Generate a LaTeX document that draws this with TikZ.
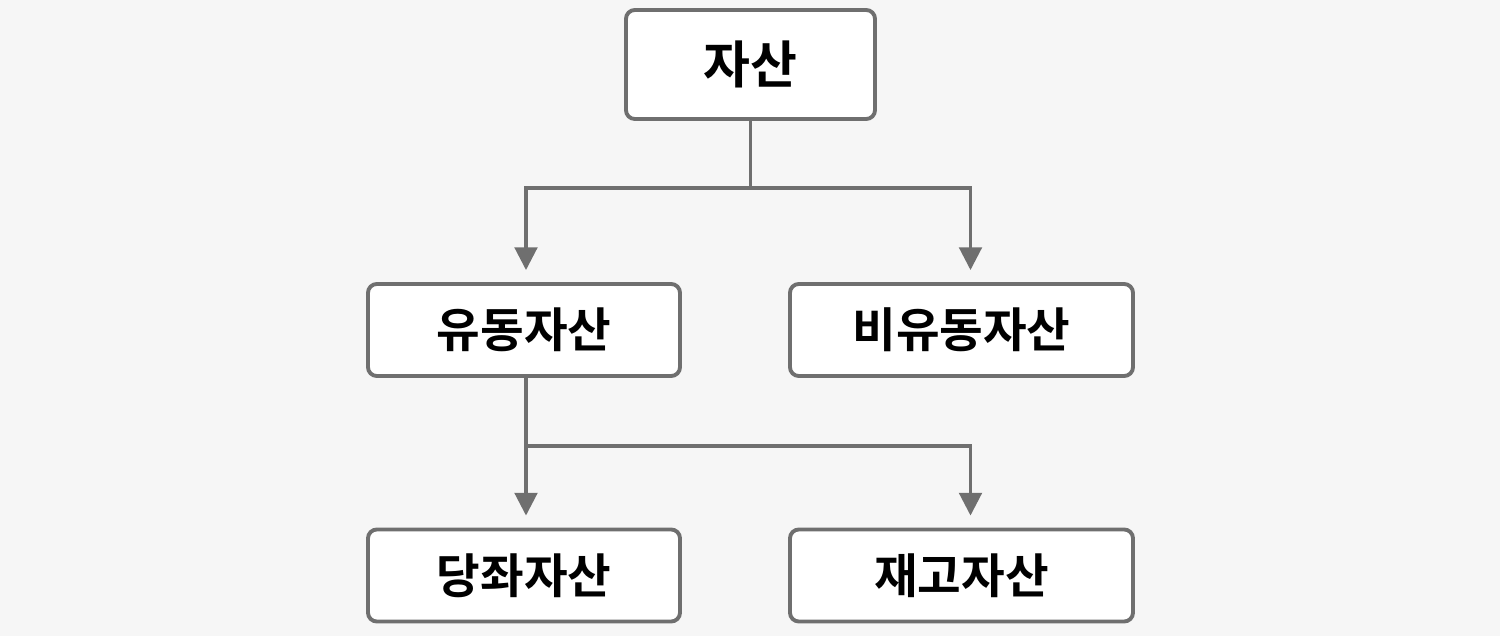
\documentclass[tikz,border=0pt]{standalone}
\usepackage{fontspec}
\setmainfont{Noto Sans CJK KR}[BoldFont={Noto Sans CJK KR Bold}]
\usetikzlibrary{arrows.meta,positioning,calc}
\definecolor{bgpaper}{HTML}{F6F6F6}
\definecolor{lgray}{HTML}{6F6F6F}
\tikzset{
  box/.style={draw=lgray,fill=white,rounded corners=2.5pt,line width=1.1pt,align=center,font=\fontsize{13.5}{16}\selectfont\bfseries,inner sep=0pt},
  arr/.style={-{Triangle[length=6.5pt,width=6.4pt,fill=lgray]},line width=1.1pt,draw=lgray,shorten >=3.4pt},
  ln/.style={line width=1.1pt,draw=lgray},
}
\begin{document}
\begin{tikzpicture}
\fill[bgpaper] (0,0) rectangle (15,-6.36);
\useasboundingbox (0,0) rectangle (15,-6.36);
\node[box, minimum width=2.49cm, minimum height=1.09cm, font=\fontsize{14.5}{17}\selectfont\bfseries] (asset) at (7.505,-0.645) {자산};
\node[box, minimum width=3.12cm, minimum height=0.92cm] (cur) at (5.24,-3.30) {유동자산};
\node[box, minimum width=3.43cm, minimum height=0.92cm] (noncur) at (9.615,-3.30) {비유동자산};
\node[box, minimum width=3.12cm, minimum height=0.92cm] (quick) at (5.24,-5.755) {당좌자산};
\node[box, minimum width=3.43cm, minimum height=0.92cm] (inv) at (9.615,-5.755) {재고자산};
\coordinate (j1) at (7.505,-1.88);
\coordinate (j2) at (5.26,-4.46);
\draw[ln] (asset.south) -- (j1);
\draw[arr] (j1) -| ([xshift=0.2mm]cur.north);
\draw[arr] (j1) -| ([xshift=0.9mm]noncur.north);
\draw[ln] ([xshift=0.2mm]cur.south) -- (j2);
\draw[arr] (j2) -| ([xshift=0.2mm]quick.north);
\draw[arr] (j2) -| ([xshift=0.9mm]inv.north);
\end{tikzpicture}
\end{document}
